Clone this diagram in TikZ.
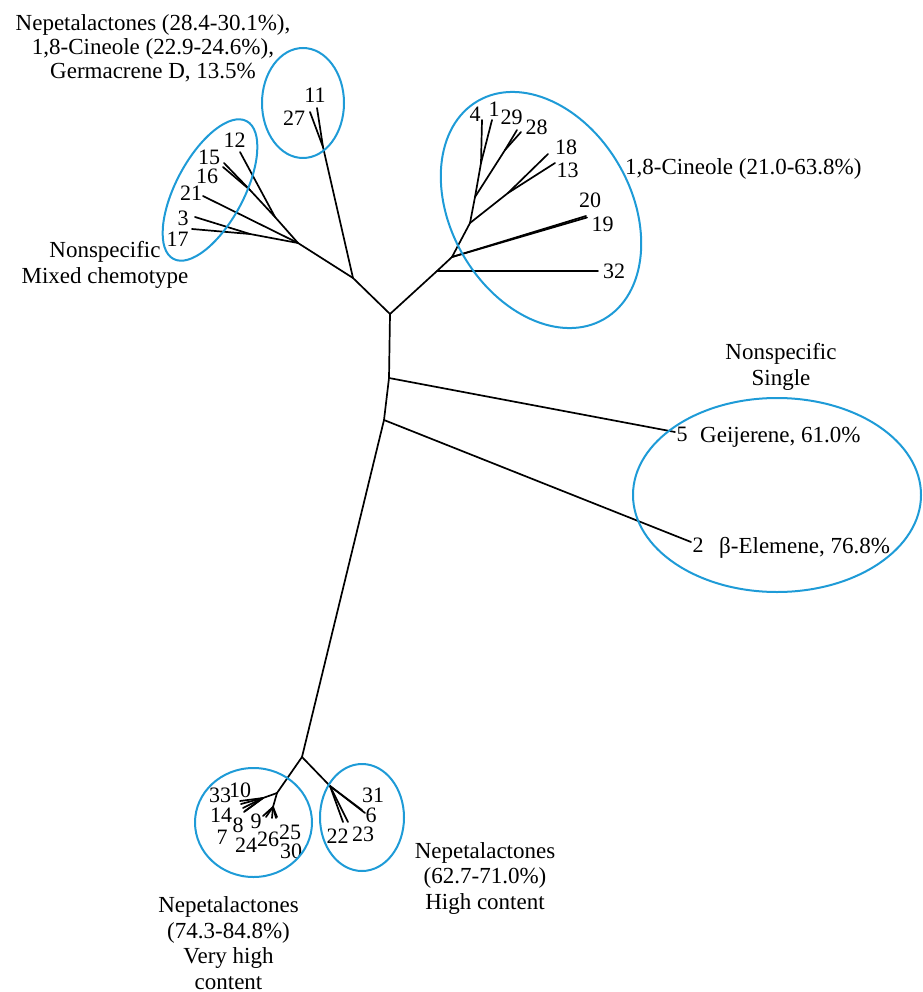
\documentclass[tikz,border=0pt]{standalone}
\usepackage{fontspec}
\setmainfont{Liberation Serif}
\definecolor{ringblue}{RGB}{30,155,215}
\tikzset{
	branch/.style={line width=1.7pt},
	ring/.style={ringblue, line width=2pt},
	num/.style={inner sep=0pt, font=\fontsize{22}{24}\selectfont},
	note/.style={inner sep=0pt, align=center, font=\fontsize{23}{25.5}\selectfont},
}
\begin{document}
\begin{tikzpicture}[line join = round, line cap = round, x=1pt, y=-1pt]
	\useasboundingbox (0,0) rectangle (922,992);
	% inner nodes of the tree
	\coordinate (O) at (390,314);
	\coordinate (A) at (353,278);
	\coordinate (S11) at (323,147);
	\coordinate (B) at (298,243);
	\coordinate (C) at (275,217);
	\coordinate (E) at (250,234);
	\coordinate (F) at (250,190);
	\coordinate (G) at (437,271);
	\coordinate (H) at (452,257);
	\coordinate (I) at (470,223);
	\coordinate (J) at (508,193);
	\coordinate (K) at (475,197);
	\coordinate (L) at (505,150);
	\coordinate (M) at (481,163);
	\coordinate (P5) at (389,378);
	\coordinate (P2) at (384,420);
	\coordinate (Q) at (302,757);
	\coordinate (R) at (277,793);
	\coordinate (R1) at (263,798);
	\coordinate (R2) at (273,807);
	\coordinate (T) at (330,786);
	% tips
	\foreach \n/\x/\y in {11/317/108, 27/310/112, 12/240/152, 15/224/163, 16/223/167,
		21/203/196, 3/195/217, 17/192/229, 4/482/120, 1/492/120, 29/517/130, 28/521/132,
		18/548/154, 13/555/163, 20/586/216, 19/587/217.5, 32/598/271, 5/675/432, 2/691/542,
		33/240/801, 10/241/804, 14/243/808, 8/245/811, 7/244/812,
		9/263/816, 24/266/817, 26/272/818, 25/276/818, 30/277/817,
		31/362/810, 6/365/813, 22/343/822, 23/348/822}
	{
		\coordinate (t\n) at (\x,\y);
	}
	\foreach \a/\b in {O/A, A/S11, S11/t11, S11/t27, A/B, B/t21, B/E, E/t3, E/t17,
		B/C, C/t12, C/F, F/t15, F/t16,
		O/G, G/t32, G/H, H/t20, H/t19, H/I, I/J, J/t18, J/t13,
		I/K, K/L, L/t29, L/t28, K/M, M/t4, M/t1,
		O/P5, P5/t5, P5/P2, P2/t2, P2/Q, Q/R, R/R1, R/R2, Q/T,
		T/t31, T/t6, T/t22, T/t23}
	{
		\draw[branch] (\a) -- (\b);
	}
	\foreach \b in {33,10,14,8,7}
	{
		\draw[branch] (R1) -- (t\b);
	}
	\foreach \b in {9,24,26,25,30}
	{
		\draw[branch] (R2) -- (t\b);
	}
	% tip numbers
	\foreach \n/\x/\y in {11/315/95.5, 27/294/118, 12/234.5/140.5, 15/209/157,
		16/207/176, 21/191/193, 3/183/218.5, 17/177.5/239.5,
		4/475/114.5, 1/494/109.5, 29/511.5/117.5, 28/536.5/127.5, 18/566/147.5,
		13/567.5/170, 20/590/200.5, 19/602.5/224.5, 32/614/271.5,
		5/682/434.5, 2/698/545.5,
		33/220/795.5, 10/240/790.5, 14/221/815.5, 8/238/825, 9/256/821.5, 7/222/837.5,
		24/246/845, 26/268/839.5, 25/290/832, 30/291/851,
		31/373/795, 6/371/815.5, 22/337.5/836.5, 23/363/834}
	{
		\node[num] (l\n) at (\x,\y) {\n};
	}
	% groups
	\draw[ring, shift={(210,190)}, rotate=62] (0,0) ellipse [x radius=78, y radius=34];
	\draw[ring] (303,103) ellipse [x radius=41, y radius=55];
	\draw[ring, shift={(541,210)}, rotate=-60] (0,0) ellipse [x radius=126, y radius=90];
	\draw[ring] (777,495) ellipse [x radius=144, y radius=97];
	\draw[ring] (253.5,822.5) ellipse [x radius=58.5, y radius=54.5];
	\draw[ring] (362,817.5) ellipse [x radius=42, y radius=53.5];
	% group texts
	\node[note, font=\fontsize{23}{24}\selectfont] (mix3) at (153,48.4) {Nepetalactones (28.4-30.1\%),\\1,8-Cineole (22.9-24.6\%),\\Germacrene D, 13.5\%};
	\node[note] (mixed) at (105,265) {Nonspecific\\Mixed chemotype};
	\node[note, anchor=base west] (cineole) at (625,175) {1,8-Cineole (21.0-63.8\%)};
	\node[note] (single) at (781,367) {Nonspecific\\Single};
	\node[note, anchor=base west] (geij) at (700,442) {Geijerene, 61.0\%};
	\node[note, anchor=base west] (elem) at (719,553) {β-Elemene, 76.8\%};
	\node[note] (high) at (485,878) {Nepetalactones\\(62.7-71.0\%)\\High content};
	\node[note] (vhigh) at (228.5,943) {Nepetalactones\\(74.3-84.8\%)\\Very high\\content};
\end{tikzpicture}
\end{document}
